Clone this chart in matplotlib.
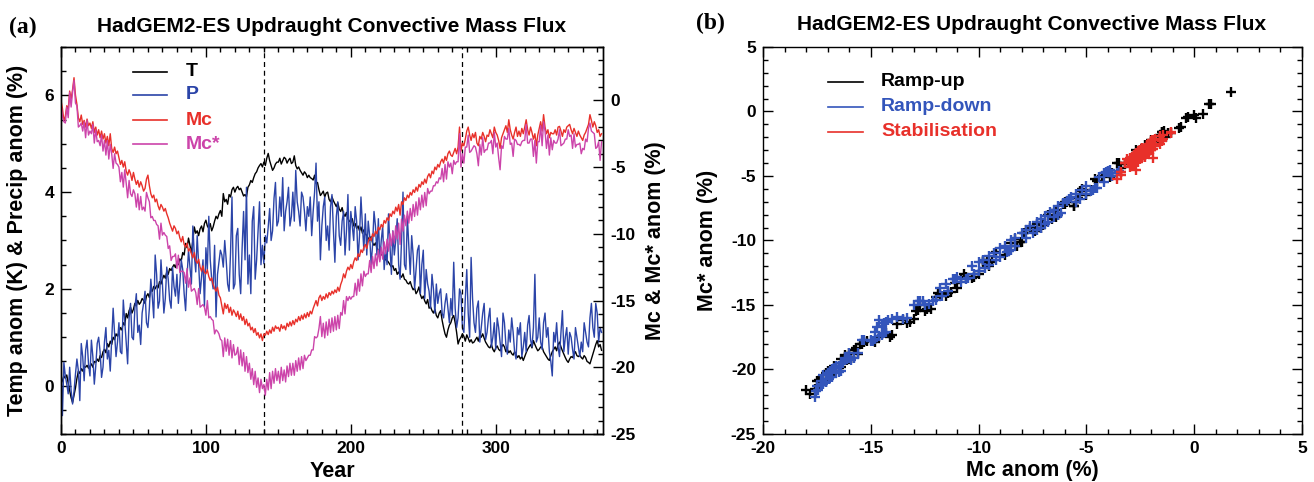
import numpy as np
import matplotlib
matplotlib.use("Agg")
import matplotlib.pyplot as plt
from matplotlib.ticker import MultipleLocator

plt.rcParams['font.family'] = ['Liberation Sans', 'DejaVu Sans']
plt.rcParams['font.weight'] = 'bold'
plt.rcParams['axes.unicode_minus'] = False

# Serie temporal (anos 0..373)
temp = [
    0.04, 0.10, 0.20, 0.15, 0.22, 0.05, -0.10, -0.25, -0.35, -0.20,
    -0.05, 0.15, 0.30, 0.25, 0.35, 0.30, 0.40, 0.38, 0.42, 0.36,
    0.40, 0.45, 0.38, 0.50, 0.48, 0.55, 0.50, 0.62, 0.58, 0.70,
    0.75, 0.68, 0.87, 0.80, 0.92, 0.85, 1.00, 0.95, 1.07, 1.02,
    1.10, 1.20, 1.15, 1.30, 1.25, 1.49, 1.40, 1.55, 1.62, 1.50,
    1.58, 1.70, 1.65, 1.76, 1.68, 1.72, 1.80, 1.76, 1.70, 1.85,
    1.90, 1.82, 2.00, 1.95, 2.05, 2.00, 2.07, 2.02, 2.15, 2.10,
    2.20, 2.28, 2.22, 2.35, 2.30, 2.42, 2.38, 2.45, 2.50, 2.44,
    2.55, 2.50, 2.62, 2.58, 2.75, 2.70, 2.94, 2.85, 3.05, 2.90,
    2.75, 3.00, 3.28, 3.15, 3.20, 3.10, 3.24, 3.30, 3.18, 3.35,
    3.42, 3.30, 3.25, 3.35, 3.20, 3.28, 3.40, 3.50, 3.45, 3.55,
    3.62, 3.50, 3.97, 3.80, 3.85, 3.75, 3.95, 3.90, 4.05, 4.10,
    4.00, 4.08, 4.12, 4.05, 4.08, 4.00, 3.92, 3.95, 3.90, 4.10,
    4.15, 4.24, 4.20, 4.30, 4.38, 4.42, 4.50, 4.55, 4.59, 4.52,
    4.62, 4.55, 4.70, 4.80, 4.65, 4.55, 4.45, 4.50, 4.58, 4.62,
    4.62, 4.70, 4.58, 4.65, 4.72, 4.69, 4.60, 4.66, 4.70, 4.59,
    4.62, 4.75, 4.55, 4.48, 4.52, 4.45, 4.40, 4.35, 4.42, 4.38,
    4.30, 4.35, 4.30, 4.28, 4.25, 4.35, 4.18, 4.20, 4.05, 3.93,
    3.97, 4.02, 3.90, 3.98, 4.00, 3.85, 3.80, 3.90, 3.82, 3.76,
    3.70, 3.78, 3.65, 3.60, 3.68, 3.55, 3.50, 3.58, 3.45, 3.40,
    3.38, 3.45, 3.30, 3.35, 3.25, 3.30, 3.20, 3.28, 3.15, 3.22,
    3.14, 3.10, 3.05, 3.00, 3.08, 2.95, 2.90, 2.95, 2.85, 2.80,
    2.78, 2.70, 2.75, 2.65, 2.60, 2.59, 2.55, 2.50, 2.45, 2.48,
    2.38, 2.42, 2.30, 2.35, 2.28, 2.24, 2.31, 2.20, 2.18, 2.12,
    2.10, 2.15, 2.05, 1.98, 2.02, 1.90, 1.95, 2.04, 1.88, 1.80,
    1.85, 1.75, 1.69, 1.78, 1.60, 1.63, 1.55, 1.50, 1.58, 1.45,
    1.40, 1.50, 1.55, 1.35, 1.20, 1.07, 1.00, 1.15, 1.25, 1.30,
    1.40, 1.45, 1.30, 1.10, 0.86, 0.95, 1.00, 1.07, 1.02, 0.92,
    1.05, 0.98, 0.90, 0.95, 0.88, 0.90, 0.95, 1.00, 0.92, 1.05,
    1.00, 1.07, 0.98, 0.90, 0.85, 0.80, 0.78, 0.85, 0.75, 0.70,
    0.78, 0.82, 0.75, 0.72, 0.80, 0.85, 0.80, 0.70, 0.75, 0.68,
    0.72, 0.66, 0.63, 0.70, 0.65, 0.58, 0.62, 0.55, 0.60, 0.52,
    0.60, 0.68, 0.75, 0.80, 0.85, 0.78, 0.93, 0.85, 0.78, 0.72,
    0.75, 0.80, 0.80, 0.70, 0.65, 0.60, 0.55, 0.52, 0.62, 0.70,
    0.75, 0.80, 0.72, 0.85, 0.90, 0.80, 0.72, 0.65, 0.58, 0.52,
    0.48, 0.55, 0.60, 0.58, 0.65, 0.70, 0.62, 0.60, 0.63, 0.58,
    0.55, 0.62, 0.58, 0.50, 0.48, 0.45, 0.55, 0.65, 0.75, 0.85,
    0.93, 0.80, 0.85, 0.73,
]

precip = [
    0.50, -0.62, 0.48, 0.20, 0.03, -0.17, 0.38, -0.10, -0.38, -0.12,
    0.24, 0.55, 0.31, -0.31, 0.87, 0.60, 0.10, 0.73, 0.94, 0.45,
    0.20, 0.94, 0.60, 0.03, 0.40, 0.87, 1.00, 0.70, 0.17, 0.38,
    0.90, 1.20, 0.55, 0.73, 0.30, 0.95, 1.60, 1.07, 0.60, 0.90,
    1.30, 0.70, 0.66, 1.77, 1.35, 0.90, 0.45, 1.40, 1.70, 1.00,
    0.95, 1.60, 1.90, 1.10, 1.25, 0.85, 1.50, 1.70, 1.95, 1.30,
    1.20, 1.60, 2.20, 1.84, 1.40, 2.70, 2.30, 1.60, 1.75, 2.60,
    2.10, 1.50, 1.80, 2.45, 2.20, 1.77, 1.60, 2.45, 2.05, 1.85,
    2.30, 1.70, 2.10, 2.60, 2.40, 1.90, 1.55, 2.25, 2.80, 2.45,
    2.10, 3.30, 2.70, 2.35, 3.10, 2.50, 1.90, 2.25, 2.60, 1.63,
    2.85, 2.40, 3.50, 2.60, 2.20, 2.00, 2.90, 1.42, 2.30, 2.55,
    2.80, 2.70, 2.45, 3.00, 2.60, 2.10, 1.95, 2.75, 3.90, 2.00,
    2.10, 3.10, 3.25, 2.30, 1.90, 2.85, 3.60, 2.60, 4.10, 2.10,
    2.70, 1.90, 3.40, 3.70, 2.20, 2.60, 3.20, 3.80, 2.50, 2.90,
    2.52, 3.10, 2.95, 3.28, 3.66, 3.00, 3.20, 3.87, 4.20, 3.30,
    3.40, 3.90, 3.50, 4.30, 3.20, 3.60, 3.80, 4.10, 3.30, 3.50,
    4.00, 3.40, 4.45, 3.80, 3.60, 3.30, 4.00, 3.90, 3.60, 3.20,
    3.70, 3.50, 3.90, 3.10, 3.60, 4.00, 4.60, 3.40, 3.80, 2.60,
    3.30, 3.70, 3.90, 3.00, 3.30, 2.80, 3.70, 3.95, 3.20, 2.55,
    3.50, 3.80, 3.10, 2.90, 3.40, 3.60, 2.70, 3.20, 3.95, 2.80,
    3.60, 3.30, 3.00, 3.70, 3.40, 2.60, 3.10, 3.90, 3.30, 2.80,
    3.55, 2.70, 3.40, 3.10, 2.50, 2.90, 3.60, 3.30, 2.70, 3.45,
    2.60, 3.00, 3.30, 2.40, 2.80, 2.50, 3.55, 2.90, 2.30, 3.20,
    2.70, 3.00, 3.45, 2.50, 2.20, 3.00, 4.00, 2.50, 2.40, 3.50,
    2.90, 2.30, 3.10, 2.70, 2.00, 2.40, 2.80, 2.90, 1.90, 2.50,
    2.80, 1.80, 2.40, 2.10, 1.95, 1.60, 2.30, 2.00, 1.50, 2.10,
    1.70, 1.90, 2.00, 1.50, 1.40, 1.70, 1.90, 1.60, 1.30, 1.80,
    1.45, 2.55, 1.60, 1.20, 1.40, 2.00, 1.90, 1.20, 1.10, 1.80,
    2.40, 1.50, 1.00, 2.65, 1.80, 1.30, 1.10, 1.60, 1.75, 0.90,
    1.20, 1.50, 1.70, 0.95, 1.10, 1.40, 1.60, 0.80, 1.00, 1.30,
    0.75, 1.40, 1.20, 0.90, 0.60, 1.50, 1.30, 0.85, 0.65, 1.15,
    0.90, 1.40, 1.10, 0.70, 0.55, 1.20, 1.05, 1.30, 0.60, 0.80,
    1.10, 0.70, 1.25, 1.45, 0.95, 0.80, 1.20, 2.30, 0.90, 1.00,
    1.40, 0.90, 0.75, 1.30, 1.50, 1.00, 1.20, 0.70, 0.50, 0.20,
    1.10, 0.90, 1.30, 0.80, 0.60, 1.10, 1.55, 0.70, 1.00, 1.20,
    0.65, 1.10, 1.00, 0.75, 0.55, 1.20, 1.00, 0.80, 0.60, 0.90,
    0.70, 1.30, 1.10, 0.90, 0.80, 1.40, 1.70, 1.20, 1.00, 1.70,
    1.50, 0.90, 1.20, 1.10,
]

mc = [
    0.00, -0.60, -1.50, -1.20, -0.40, -0.70, 0.70, 0.10, 0.80, 1.70,
    0.40, -0.30, -1.30, -1.60, -1.10, -1.80, -1.50, -2.00, -1.40, -1.90,
    -1.70, -2.10, -1.60, -2.40, -2.00, -2.60, -2.20, -2.80, -2.30, -2.90,
    -2.50, -3.20, -2.70, -3.40, -2.50, -3.60, -3.90, -3.50, -4.00, -3.80,
    -4.30, -4.80, -4.50, -5.00, -4.60, -5.30, -5.60, -5.20, -5.50, -6.00,
    -5.40, -5.90, -6.30, -6.00, -6.50, -6.10, -6.40, -6.80, -6.60, -5.90,
    -5.60, -6.40, -7.00, -7.30, -7.10, -7.60, -7.40, -7.90, -8.20, -7.80,
    -8.00, -8.30, -8.10, -8.50, -8.80, -9.20, -9.50, -9.80, -9.40, -9.60,
    -10.00, -9.80, -10.30, -10.60, -10.20, -10.80, -11.00, -10.70, -11.30, -11.10,
    -11.50, -11.80, -11.40, -12.00, -12.20, -11.90, -12.50, -12.80, -12.40, -12.90,
    -13.00, -12.70, -13.20, -13.50, -13.30, -13.80, -14.10, -14.30, -14.00, -14.60,
    -14.80, -15.40, -16.00, -15.20, -15.60, -15.30, -15.90, -15.50, -16.10, -15.70,
    -15.90, -16.20, -15.80, -16.40, -16.00, -16.50, -16.20, -16.80, -16.40, -16.90,
    -16.70, -17.20, -17.00, -17.40, -17.10, -17.60, -17.40, -17.80, -17.50, -18.00,
    -17.50, -17.60, -17.30, -17.55, -17.20, -17.45, -17.00, -17.30, -16.90, -17.10,
    -17.00, -17.30, -16.80, -17.10, -16.90, -17.20, -16.70, -16.95, -16.60, -16.90,
    -16.50, -16.80, -16.40, -16.60, -16.20, -16.50, -16.10, -16.40, -16.00, -16.30,
    -15.90, -16.20, -15.80, -16.00, -15.60, -15.30, -15.00, -15.40, -14.80, -14.60,
    -15.00, -14.70, -14.90, -14.50, -14.80, -14.40, -14.60, -14.30, -14.50, -14.20,
    -14.40, -14.00, -14.30, -13.80, -13.50, -13.00, -13.30, -12.80, -12.50, -12.70,
    -12.30, -12.60, -12.10, -11.80, -12.00, -11.50, -11.70, -11.20, -11.40, -11.00,
    -10.80, -11.10, -10.60, -10.30, -10.50, -10.00, -10.20, -9.80, -10.00, -9.50,
    -9.70, -9.30, -9.50, -9.00, -9.20, -8.80, -9.00, -8.50, -8.70, -8.30,
    -8.50, -8.00, -8.30, -7.80, -8.60, -7.60, -7.80, -7.30, -7.50, -7.10,
    -7.30, -6.90, -7.10, -6.70, -6.90, -6.50, -6.80, -6.30, -6.50, -6.10,
    -6.30, -5.90, -6.20, -5.70, -5.50, -5.80, -5.30, -5.50, -5.00, -5.20,
    -4.80, -5.00, -4.60, -4.40, -4.70, -4.20, -4.50, -4.00, -3.80, -4.10,
    -4.20, -3.90, -3.60, -4.00, -3.50, -2.00, -3.80, -3.20, -3.40, -2.90,
    -2.30, -2.00, -2.60, -3.00, -2.50, -2.80, -2.40, -3.20, -3.40, -2.70,
    -2.90, -2.40, -2.70, -3.10, -2.60, -2.70, -2.20, -2.50, -2.80, -2.00,
    -2.40, -2.60, -3.00, -3.60, -2.80, -2.50, -2.20, -1.90, -2.40, -1.45,
    -2.20, -2.60, -2.90, -2.40, -2.00, -2.70, -2.30, -2.70, -2.10, -2.50,
    -2.00, -1.45, -2.20, -2.60, -2.00, -2.40, -2.90, -2.50, -3.40, -2.60,
    -2.10, -1.60, -2.30, -1.07, -2.00, -2.50, -2.20, -2.80, -2.40, -2.50,
    -2.50, -2.20, -2.60, -2.00, -1.95, -2.30, -2.70, -2.20, -2.40, -2.00,
    -1.90, -1.80, -2.20, -2.50, -2.10, -2.40, -2.70, -2.30, -2.60, -2.80,
    -3.00, -2.60, -2.40, -2.10, -1.80, -1.07, -1.50, -2.00, -1.60, -1.90,
    -2.40, -2.20, -2.70, -2.50,
]

mc_star = [
    -0.30, -1.20, -1.60, -1.70, -0.50, -1.30, 0.60, -0.50, 0.60, 1.50,
    -0.20, -0.40, -2.00, -1.90, -1.70, -2.30, -1.60, -2.80, -1.50, -2.60,
    -2.30, -2.50, -1.80, -3.20, -2.20, -3.10, -3.00, -3.40, -2.60, -3.80,
    -3.00, -4.10, -3.00, -4.40, -3.30, -4.00, -5.10, -4.00, -4.70, -4.80,
    -5.00, -6.10, -5.40, -6.50, -5.20, -6.20, -7.30, -6.00, -7.00, -7.20,
    -6.70, -7.00, -8.00, -7.00, -8.20, -7.20, -8.20, -8.00, -8.30, -6.90,
    -7.30, -7.60, -8.80, -8.70, -9.00, -9.00, -9.30, -9.40, -10.40, -9.20,
    -10.10, -9.90, -10.10, -10.20, -11.10, -10.90, -12.00, -11.70, -11.70, -11.50,
    -12.60, -11.60, -12.90, -12.80, -12.80, -12.90, -13.70, -12.60, -14.00, -13.30,
    -14.30, -14.20, -14.10, -14.40, -15.30, -14.10, -15.50, -15.40, -15.30, -15.50,
    -16.10, -15.00, -16.30, -16.20, -16.40, -16.50, -17.50, -17.20, -17.30, -17.50,
    -17.90, -18.00, -19.20, -17.80, -18.80, -17.90, -19.10, -18.00, -19.30, -18.30,
    -19.10, -19.00, -18.50, -19.80, -18.70, -19.90, -18.90, -20.30, -19.20, -20.40,
    -19.70, -20.90, -20.10, -21.30, -20.30, -21.50, -20.80, -21.90, -20.90, -21.60,
    -21.30, -22.10, -20.90, -21.70, -20.40, -21.60, -20.30, -21.20, -20.10, -21.00,
    -20.30, -21.20, -20.00, -21.00, -20.20, -21.10, -19.90, -20.70, -19.70, -20.60,
    -19.70, -20.60, -19.50, -20.30, -19.30, -20.20, -19.20, -20.10, -19.10, -19.50,
    -19.30, -19.10, -19.10, -18.70, -18.70, -17.70, -17.80, -17.70, -17.10, -16.20,
    -17.70, -16.70, -17.80, -16.60, -17.60, -16.40, -17.40, -16.30, -17.30, -16.20,
    -17.20, -16.10, -17.10, -15.90, -16.10, -15.00, -16.00, -14.70, -15.00, -14.70,
    -14.90, -14.70, -14.70, -13.70, -14.60, -13.40, -14.30, -13.00, -13.90, -12.80,
    -13.20, -13.00, -13.00, -12.00, -12.90, -11.70, -12.60, -11.50, -12.40, -11.20,
    -12.10, -11.00, -11.90, -10.60, -11.50, -10.40, -11.30, -10.00, -10.90, -9.80,
    -10.70, -9.40, -10.40, -9.20, -10.80, -8.90, -9.80, -8.60, -9.40, -8.30,
    -9.20, -8.10, -9.00, -7.80, -8.70, -7.60, -8.60, -7.30, -8.20, -7.10,
    -8.00, -6.90, -7.90, -6.60, -7.00, -6.80, -6.80, -6.40, -6.40, -6.10,
    -6.20, -5.80, -5.90, -5.10, -6.10, -4.80, -5.90, -4.60, -5.00, -4.70,
    -5.50, -4.50, -4.80, -4.60, -4.60, -2.50, -5.00, -4.00, -4.70, -3.50,
    -3.50, -2.60, -3.90, -3.80, -3.60, -3.40, -3.50, -4.00, -4.90, -3.30,
    -4.10, -2.80, -3.90, -3.70, -3.70, -3.20, -3.20, -3.00, -4.00, -2.40,
    -3.50, -3.20, -4.30, -5.20, -3.40, -3.60, -2.70, -2.90, -2.90, -2.10,
    -3.30, -3.20, -4.20, -2.90, -3.00, -3.30, -3.30, -3.40, -3.10, -3.00,
    -3.00, -1.80, -3.20, -3.20, -2.90, -2.90, -4.20, -3.00, -4.70, -3.10,
    -3.10, -1.90, -3.40, -1.60, -2.30, -3.60, -2.60, -4.10, -2.80, -3.70,
    -3.00, -3.20, -3.20, -2.90, -2.20, -3.40, -3.30, -3.20, -2.90, -2.90,
    -2.20, -2.70, -2.60, -3.60, -2.50, -3.50, -3.30, -3.30, -3.20, -4.00,
    -3.60, -3.70, -2.90, -3.10, -2.10, -1.70, -2.30, -2.40, -2.50, -3.60,
    -3.50, -3.10, -4.50, -3.10,
]

years = np.arange(len(temp))
ramp_end = 140      # fin del ramp-up
stab_start = 277    # comienzo de la estabilizacion

col_t = "black"
col_p = "#2b44a8"
col_mc = "#e8302a"
col_mcs = "#cc44aa"
col_blue_pts = "#3355bb"

fig = plt.figure(figsize=(13.14, 4.82), dpi=100)

def estilo_ticks(ax):
    ax.tick_params(which='both', direction='in', labelsize=12.5, width=1.0)
    ax.tick_params(which='major', length=7, pad=5)
    ax.tick_params(which='minor', length=3.5)
    for s in ax.spines.values():
        s.set_linewidth(1.0)

# ---------- panel (a) ----------
ax1 = fig.add_axes([0.0464, 0.0996, 0.4125, 0.8029])
ax1.plot(years, temp, color=col_t, lw=1.0)
ax1.plot(years, precip, color=col_p, lw=1.0)
ax1.set_xlim(0, 374)
ax1.set_ylim(-1, 7)
ax1.xaxis.set_major_locator(MultipleLocator(100))
ax1.xaxis.set_minor_locator(MultipleLocator(10))
ax1.yaxis.set_major_locator(MultipleLocator(2))
ax1.yaxis.set_minor_locator(MultipleLocator(0.5))
estilo_ticks(ax1)
ax1.tick_params(which='both', top=True, right=False)
ax1.set_xlabel("Year", fontsize=15.5, fontweight='bold')
ax1.xaxis.set_label_coords(0.5, -0.070)
ax1.set_ylabel("Temp anom (K) & Precip anom (%)", fontsize=15.5, fontweight='bold')
ax1.yaxis.set_label_coords(-0.061, 0.5)
ax1.axvline(ramp_end, color='black', lw=0.9, ls=(0, (4, 3)))
ax1.axvline(stab_start, color='black', lw=0.9, ls=(0, (4, 3)))

ax2 = ax1.twinx()
ax2.plot(years, mc, color=col_mc, lw=1.0)
ax2.plot(years, mc_star, color=col_mcs, lw=1.0)
ax2.set_ylim(-25, 4)
ax2.yaxis.set_major_locator(MultipleLocator(5))
ax2.yaxis.set_minor_locator(MultipleLocator(1))
estilo_ticks(ax2)
ax2.set_ylabel("Mc & Mc* anom (%)", fontsize=15.5, fontweight='bold')
ax2.yaxis.set_label_coords(1.077, 0.5)

# leyenda manual
nombres = ["T", "P", "Mc", "Mc*"]
colores = [col_t, col_p, col_mc, col_mcs]
ys = [0.936, 0.876, 0.811, 0.749]
for n, c, y in zip(nombres, colores, ys):
    ax1.plot([0.133, 0.196], [y, y], color=c, lw=1.2, transform=ax1.transAxes)
    ax1.text(0.231, y, n, color=c, fontsize=14, fontweight='bold',
             va='center', ha='left', transform=ax1.transAxes)

fig.text(0.2527, 0.945, "HadGEM2-ES Updraught Convective Mass Flux",
         fontsize=15, fontweight='bold', ha='center', va='center')
fig.text(0.007, 0.944, "(a)", fontsize=17, fontweight='bold',
         family='Liberation Serif', va='center')

# ---------- panel (b) ----------
mc_arr = np.array(mc)
mcs_arr = np.array(mc_star)
up = years < ramp_end
down = (years >= ramp_end) & (years < stab_start)
stab = years >= stab_start

ax3 = fig.add_axes([0.5807, 0.0996, 0.4102, 0.8029])
ax3.plot(mc_arr[up], mcs_arr[up], '+', color='black', ms=6.5, mew=1.7)
ax3.plot(mc_arr[down], mcs_arr[down], '+', color=col_blue_pts, ms=6.5, mew=1.7)
ax3.plot(mc_arr[stab], mcs_arr[stab], '+', color=col_mc, ms=6.5, mew=1.7)
ax3.set_xlim(-20, 5)
ax3.set_ylim(-25, 5)
ax3.xaxis.set_major_locator(MultipleLocator(5))
ax3.xaxis.set_minor_locator(MultipleLocator(1))
ax3.yaxis.set_major_locator(MultipleLocator(5))
ax3.yaxis.set_minor_locator(MultipleLocator(1))
estilo_ticks(ax3)
ax3.tick_params(which='both', top=True, right=True)
ax3.set_xlabel("Mc anom (%)", fontsize=15.5, fontweight='bold')
ax3.xaxis.set_label_coords(0.5, -0.068)
ax3.set_ylabel("Mc* anom (%)", fontsize=15.5, fontweight='bold')
ax3.yaxis.set_label_coords(-0.083, 0.5)

nombres_b = ["Ramp-up", "Ramp-down", "Stabilisation"]
colores_b = ["black", col_blue_pts, col_mc]
ys_b = [0.910, 0.846, 0.781]
for n, c, y in zip(nombres_b, colores_b, ys_b):
    ax3.plot([0.121, 0.186], [y, y], color=c, lw=1.2, transform=ax3.transAxes)
    ax3.text(0.219, y, n, color=c, fontsize=14, fontweight='bold',
             va='center', ha='left', transform=ax3.transAxes)

fig.text(0.7854, 0.950, "HadGEM2-ES Updraught Convective Mass Flux",
         fontsize=15, fontweight='bold', ha='center', va='center')
fig.text(0.530, 0.952, "(b)", fontsize=17, fontweight='bold',
         family='Liberation Serif', va='center')

fig.savefig("out.png", dpi=100)
